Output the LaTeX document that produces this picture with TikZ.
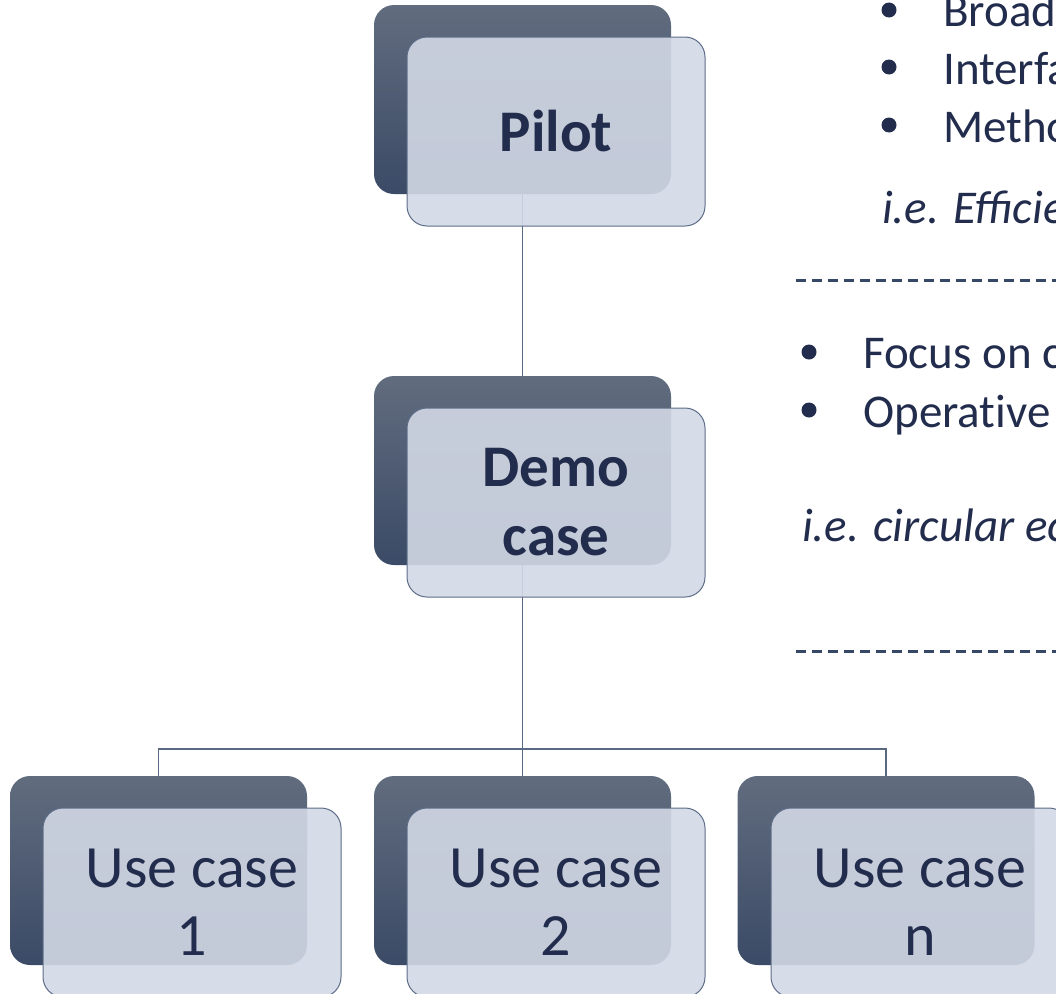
\documentclass[tikz,border=0pt]{standalone}
\usepackage{fontspec}
\setmainfont{Carlito}
\definecolor{txt}{RGB}{34,44,76}
\definecolor{darktop}{RGB}{97,108,126}
\definecolor{darkbot}{RGB}{59,74,102}
\definecolor{lightfill}{RGB}{210,216,229}
\definecolor{lightedge}{RGB}{93,109,136}
\definecolor{conn}{RGB}{90,105,130}
\definecolor{dashc}{RGB}{55,72,102}
\tikzset{
  darkbox/.style={rectangle, rounded corners=20pt, minimum width=297pt, minimum height=189pt, inner sep=0pt, top color=darktop, bottom color=darkbot, draw=none},
  lightbox/.style={rectangle, rounded corners=20pt, minimum width=298pt, minimum height=189pt, inner sep=0pt, fill=lightfill, fill opacity=0.9, text opacity=1, draw=lightedge, line width=1pt, text=txt, align=center, font=\fontsize{60}{68}\selectfont},
  connector/.style={draw=conn, line width=1.1pt},
  sidetext/.style={anchor=base west, inner sep=0pt, text=txt, font=\fontsize{47}{56}\selectfont},
  bulletdot/.style={circle, fill=txt, minimum size=15pt, inner sep=0pt},
  sep/.style={draw=dashc, line width=3pt, dash pattern=on 10pt off 6pt}
}
\begin{document}
\begin{tikzpicture}[x=1pt,y=-1pt]
\useasboundingbox (0,0) rectangle (1056,993);
\clip (0,0) rectangle (1056,993);
% dark boxes
\node[darkbox] (pilotD) at (522.5,99.5) {};
\node[darkbox] (demoD) at (522.5,470.5) {};
\node[darkbox] (uc1D) at (158.5,870.5) {};
\node[darkbox] (uc2D) at (522.5,870.5) {};
\node[darkbox] (ucnD) at (886,870.5) {};
% connectors
\coordinate (bus) at (522.5,749);
\draw[connector] (pilotD.south) -- (demoD.north);
\draw[connector] (demoD.south) -- (bus);
\draw[connector] (bus) -| (uc1D.north);
\draw[connector] (bus) -- (uc2D.north);
\draw[connector] (bus) -| (ucnD.north);
% light boxes
\node[lightbox, font=\fontsize{59}{68}\selectfont\bfseries] (pilot) at (556,131.5) {Pilot};
\node[lightbox, font=\fontsize{59}{69}\selectfont\bfseries] (demo) at (556,502.5) {Demo\\case};
\node[lightbox] (uc1) at (192,902.5) {Use case\\1};
\node[lightbox] (uc2) at (556,902.5) {Use case\\2};
\node[lightbox] (ucn) at (920,902.5) {Use case\\n};
% right side text
\node[bulletdot] (b1) at (889,10) {};
\node[sidetext] (t1) at (943,27) {Broad};
\node[bulletdot] (b2) at (889,67) {};
\node[sidetext] (t2) at (943,84) {Interfa};
\node[bulletdot] (b3) at (889,125) {};
\node[sidetext] (t3) at (943,142) {Metho};
\node[sidetext, font=\fontsize{47}{56}\selectfont\itshape] (t4) at (882,223) {i.e. Efficie};
\coordinate (d1a) at (796,280);
\coordinate (d1b) at (1060,280);
\draw[sep] (d1a) -- (d1b);
\node[bulletdot] (b4) at (809,352) {};
\node[sidetext] (t5) at (863,368) {Focus on c};
\node[bulletdot] (b5) at (809,410) {};
\node[sidetext] (t6) at (863,427) {Operat\kern0pt ive};
\node[sidetext, font=\fontsize{47}{56}\selectfont\itshape] (t7) at (802,541) {i.e. circular ec};
\coordinate (d2a) at (796,651);
\coordinate (d2b) at (1060,651);
\draw[sep] (d2a) -- (d2b);
\end{tikzpicture}
\end{document}
